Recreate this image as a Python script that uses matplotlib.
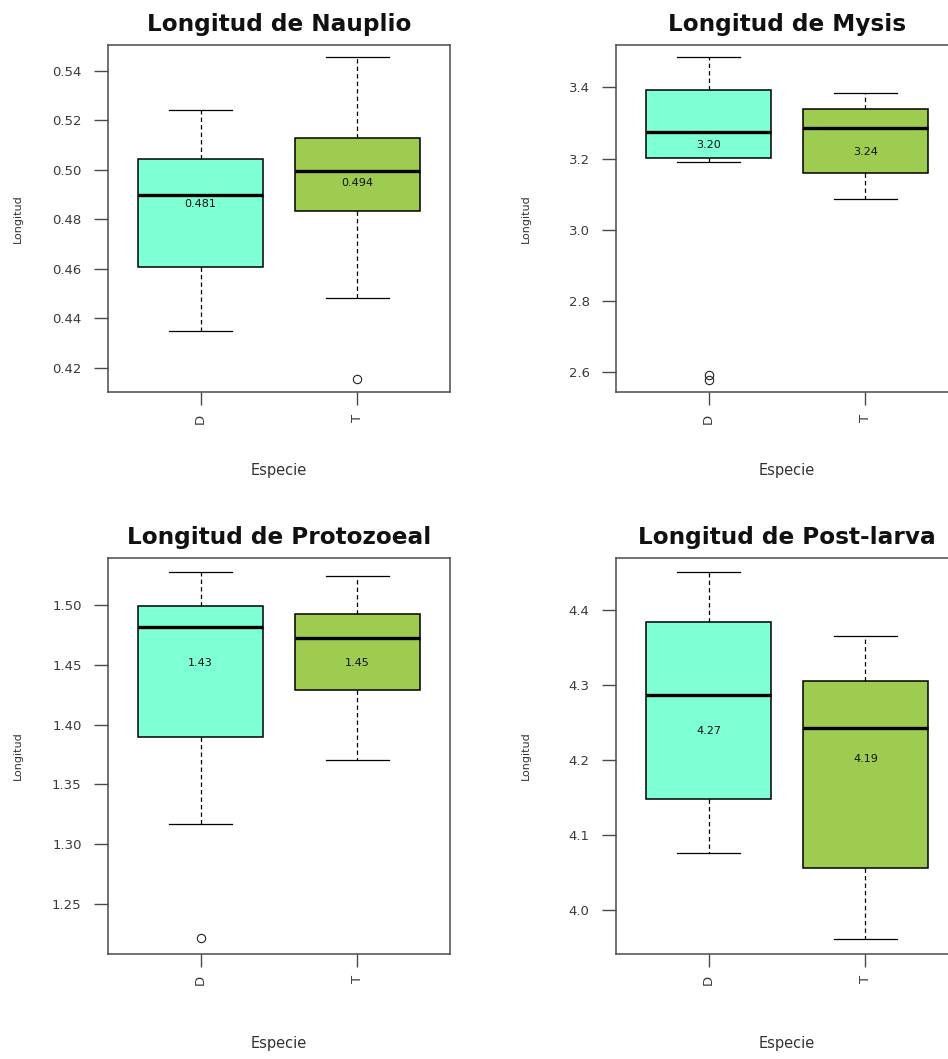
import matplotlib
matplotlib.use("Agg")
import matplotlib.pyplot as plt

# ---------------- data ----------------
stages = ["Nauplio", "Mysis", "Protozoeal", "Post-larva"]
species = ["D", "T"]

whisker_low = [[0.435, 0.4484], [3.190, 3.0855], [1.3167, 1.370], [4.0758, 3.962]]
q1 = [[0.4608, 0.4834], [3.202, 3.160], [1.390, 1.4287], [4.148, 4.056]]
median = [[0.4898, 0.4996], [3.275, 3.285], [1.482, 1.473], [4.286, 4.242]]
q3 = [[0.5043, 0.5131], [3.392, 3.339], [1.4994, 1.4925], [4.384, 4.3046]]
whisker_high = [[0.5241, 0.5455], [3.484, 3.385], [1.528, 1.525], [4.4496, 4.3645]]
outliers = [[[], [0.4156]], [[2.592, 2.580], []], [[1.221], []], [[], []]]

mean_labels = [["0.481", "0.494"], ["3.20", "3.24"], ["1.43", "1.45"], ["4.27", "4.19"]]

y_ticks = [[0.42, 0.44, 0.46, 0.48, 0.50, 0.52, 0.54],
           [2.6, 2.8, 3.0, 3.2, 3.4],
           [1.25, 1.30, 1.35, 1.40, 1.45, 1.50],
           [4.0, 4.1, 4.2, 4.3, 4.4]]
y_tick_labels = [["0.42", "0.44", "0.46", "0.48", "0.50", "0.52", "0.54"],
                 ["2.6", "2.8", "3.0", "3.2", "3.4"],
                 ["1.25", "1.30", "1.35", "1.40", "1.45", "1.50"],
                 ["4.0", "4.1", "4.2", "4.3", "4.4"]]

# ---------------- layout / style ----------------
y_limits = [(0.4103, 0.5505), (2.545, 3.519), (1.208, 1.540), (3.942, 4.469)]
label_y = [[0.4864, 0.4948], [3.237, 3.219], [1.452, 1.452], [4.238, 4.201]]
box_colors = ["#7FFFD4", "#9ECC50"]

W, H = 948, 1059
# axes boxes in pixels: left, top, right, bottom
axes_px = [(108, 45, 450, 392), (616, 45, 958, 392),
           (108, 557.7, 450, 953.7), (616, 557.7, 958, 953.7)]

fig = plt.figure(figsize=(W / 100, H / 100), dpi=100)
fig.patch.set_facecolor("white")

axis_col = "#4a4a4a"
tick_col = "#3a3a3a"

for i, stage in enumerate(stages):
    l, t, r, b = axes_px[i]
    ax = fig.add_axes([l / W, 1 - b / H, (r - l) / W, (b - t) / H])
    stats = []
    for j, sp in enumerate(species):
        stats.append(dict(label=sp, whislo=whisker_low[i][j], q1=q1[i][j],
                          med=median[i][j], q3=q3[i][j], whishi=whisker_high[i][j],
                          fliers=outliers[i][j]))
    bp = ax.bxp(stats, positions=[1, 2], widths=0.8, capwidths=0.4,
                patch_artist=True, showfliers=True,
                boxprops=dict(edgecolor="black", linewidth=1.1),
                medianprops=dict(color="black", linewidth=2.4, solid_capstyle="butt"),
                whiskerprops=dict(color="black", linewidth=0.9, linestyle=(0, (3.5, 2.5))),
                capprops=dict(color="black", linewidth=0.9),
                flierprops=dict(marker="o", markersize=6, markerfacecolor="none",
                                markeredgecolor="#222222", markeredgewidth=0.8))
    for patch, c in zip(bp["boxes"], box_colors):
        patch.set_facecolor(c)

    for j in range(2):
        ax.text(j + 1, label_y[i][j], mean_labels[i][j], ha="center", va="center",
                fontsize=8, color="#111111")

    ax.set_xlim(0.41, 2.59)
    ax.set_ylim(*y_limits[i])
    ax.set_yticks(y_ticks[i])
    ax.set_yticklabels(y_tick_labels[i])
    ax.set_xticks([1, 2])
    ax.set_xticklabels(species, rotation=90)

    ax.tick_params(axis="y", length=10, width=1.0, pad=9, labelsize=9.5,
                   colors=axis_col, labelcolor=tick_col)
    ax.tick_params(axis="x", length=9.5, width=1.0, pad=6, labelsize=9.5,
                   colors=axis_col, labelcolor=tick_col)
    for s in ax.spines.values():
        s.set_color(axis_col)
        s.set_linewidth(1.1)

    ax.set_title("Longitud de " + stage, fontsize=16.7, fontweight="bold",
                 color="#111111", pad=10)
    ax.text(-90 / (r - l), 0.5, "Longitud", transform=ax.transAxes, rotation=90,
            ha="center", va="center", fontsize=8, color="#333333")
    ax.text(0.5, -0.226, "Especie", transform=ax.transAxes, ha="center",
            va="center", fontsize=10.5, color="#333333")

fig.savefig("out.png", dpi=100)
